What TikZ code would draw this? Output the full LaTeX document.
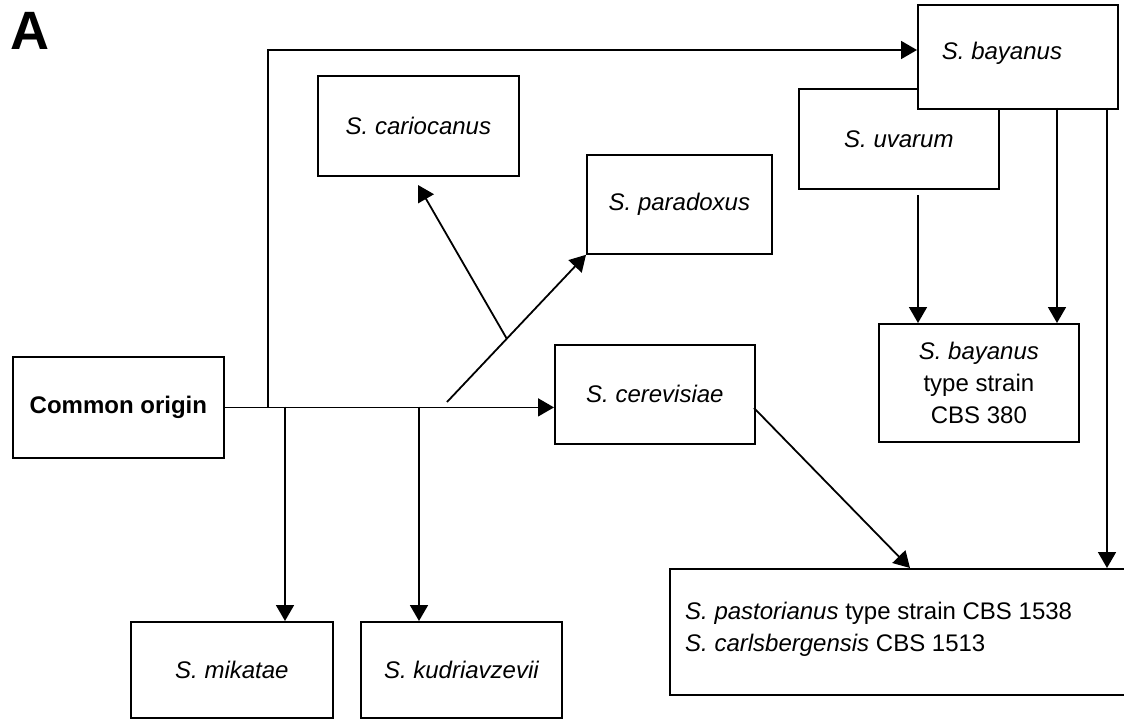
\documentclass[tikz,border=0pt]{standalone}
\usepackage{fontspec}
\setmainfont{Liberation Sans}
\usetikzlibrary{arrows.meta,calc}
\begin{document}
\begin{tikzpicture}[x=1pt,y=-1pt,
  box/.style={draw, line width=1.8pt, fill=white, inner sep=0pt, anchor=north west},
  lbl/.style={font=\fontsize{24}{32}\selectfont\itshape},
  conn/.style={line width=1.8pt},
  arr/.style={line width=1.8pt, -{Triangle[length=16pt,width=18pt]}}]
\useasboundingbox (0,0) rectangle (1124,719);
\fill[white] (0,0) rectangle (1124,719);
\node[font=\fontsize{54}{54}\selectfont\bfseries, anchor=base west, inner sep=0pt] (lblA) at (10,50) {A};
% boxes
\node[box, minimum width=211pt, minimum height=101pt, font=\fontsize{24}{32}\selectfont\bfseries] (origin) at (12,356) {Common origin};
\node[box, lbl, minimum width=201pt, minimum height=100pt] (car) at (317,75) {S. cariocanus};
\node[box, lbl, minimum width=185pt, minimum height=99pt] (par) at (586,154) {S. paradoxus};
\node[box, lbl, minimum width=200pt, minimum height=100pt] (uva) at (798,88) {S. uvarum};
\node[box, minimum width=200pt, minimum height=104pt] (bay) at (917,4) {};
\node[lbl] (baytxt) at (1002,53) {S. bayanus};
\node[box, lbl, minimum width=200pt, minimum height=99pt] (cer) at (554,344) {S. cerevisiae};
\node[box, minimum width=200pt, minimum height=118pt, align=center, font=\fontsize{24}{32}\selectfont] (cbs) at (878,323) {\textit{S. bayanus}\\type strain\\CBS 380};
\node[box, minimum width=480pt, minimum height=126pt] (past) at (669,568) {};
\node[font=\fontsize{24}{32}\selectfont, align=left, anchor=west, inner sep=0pt] (pasttxt) at (685,629) {\textit{S. pastorianus} type strain CBS 1538\\\textit{S. carlsbergensis} CBS 1513};
\node[box, lbl, minimum width=202pt, minimum height=96pt] (mik) at (130,621) {S. mikatae};
\node[box, lbl, minimum width=201pt, minimum height=96pt] (kud) at (360,621) {S. kudriavzevii};
% junctions
\coordinate (ju) at (268,406.5);
\coordinate (jm) at (285,406.5);
\coordinate (jk) at (419,406.5);
\coordinate (jp) at (447,402);
\coordinate (jc) at ($(jp)!0.43!(par.south west)$);
\coordinate (ct) at (418,185);
\coordinate (bayin) at (917,50);
\coordinate (uvout) at (918,195);
\coordinate (b1) at (1057,108);
\coordinate (b2) at (1107,108);
\coordinate (ce) at (754,408);
\coordinate (pin) at (910,568);
% connectors
\draw[arr] (origin.east) -- (origin.east -| cer.west);
\draw[arr] (ju) |- (bayin);
\draw[arr] (jm) -- (jm |- mik.north);
\draw[arr] (jk) -- (jk |- kud.north);
\draw[arr] (jp) -- (par.south west);
\draw[arr] (jc) -- (ct);
\draw[arr] (uvout) -- (uvout |- cbs.north);
\draw[arr] (b1) -- (b1 |- cbs.north);
\draw[arr] (b2) -- (b2 |- past.north);
\draw[arr] (ce) -- (pin);
\end{tikzpicture}
\end{document}
